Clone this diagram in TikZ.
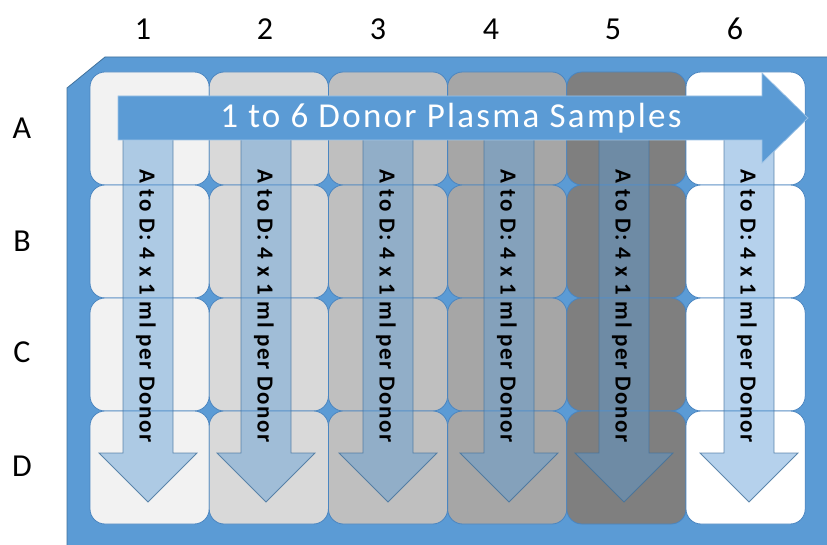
\documentclass[tikz,border=0pt]{standalone}
\usepackage{fontspec}
\setmainfont{Carlito}
\newfontfamily\spacedA[LetterSpace=6.5]{Carlito}
\newfontfamily\spacedB[LetterSpace=7]{Carlito}
\definecolor{plate}{HTML}{5B9BD5}
\definecolor{plateedge}{HTML}{41719C}
\definecolor{welledge}{HTML}{4A85C0}
\definecolor{c1}{HTML}{F2F2F2}
\definecolor{c2}{HTML}{D9D9D9}
\definecolor{c3}{HTML}{BFBFBF}
\definecolor{c4}{HTML}{A6A6A6}
\definecolor{c5}{HTML}{7F7F7F}
\definecolor{c6}{HTML}{FFFFFF}
\tikzset{
  well/.style={draw=welledge, line width=0.8pt, rounded corners=15pt},
  varrow/.style={fill=plate, fill opacity=0.45, draw=plateedge, draw opacity=0.8, line width=0.8pt},
  harrow/.style={fill=plate, draw=plate!60!white, line width=0.7pt},
  lbl/.style={font=\fontsize{32}{36}\selectfont, text=black, inner sep=0pt},
  vtext/.style={font=\spacedB\bfseries\fontsize{23}{27}\selectfont, text=black, rotate=-90, inner sep=0pt},
  htext/.style={font=\spacedA\fontsize{35}{40}\selectfont, text=white, inner sep=0pt}
}
\begin{document}
\begin{tikzpicture}[x=1pt,y=-1pt]
\useasboundingbox (0,0) rectangle (827,545);
% plate
\fill[plate] (67,88) -- (105,57) -- (830,57) -- (830,548) -- (67,548) -- cycle;
\draw[plateedge, line width=0.8pt] (67,548) -- (67,88) -- (105,57) -- (830,57);
% wells
\foreach \i/\col in {0/c1,1/c2,2/c3,3/c4,4/c5,5/c6}{
  \foreach \j in {0,1,2,3}{
    \filldraw[well, fill=\col] ({90+119.2*\i},{72+113*\j}) rectangle ({90+119.2*(\i+1)},{72+113*(\j+1)});
  }
}
% vertical arrows
\foreach \cx [count=\k] in {148,266,388,509,624,749}{
  \draw[varrow] (\cx-25,135) -- (\cx-25,453) -- (\cx-49,453) -- (\cx,502) -- (\cx+49,453) -- (\cx+25,453) -- (\cx+25,135) -- cycle;
  \node[vtext] (vt\k) at (\cx-2,306) {A to D: 4 x 1 ml per Donor};
}
% horizontal arrow
\draw[harrow] (118,96) -- (762,96) -- (762,73) -- (808,118) -- (762,163) -- (762,140) -- (118,140) -- cycle;
\node[htext] (ht) at (451,118) {1 to 6 Donor Plasma Samples};
% column labels
\foreach \x/\t in {143/1,265/2,378/3,491/4,613/5,735/6}{
  \node[lbl] (col\t) at (\x,29) {\t};
}
% row labels
\foreach \y/\t in {128/A,241/B,352/C,466/D}{
  \node[lbl] (row\t) at (22,\y) {\t};
}
\end{tikzpicture}
\end{document}
